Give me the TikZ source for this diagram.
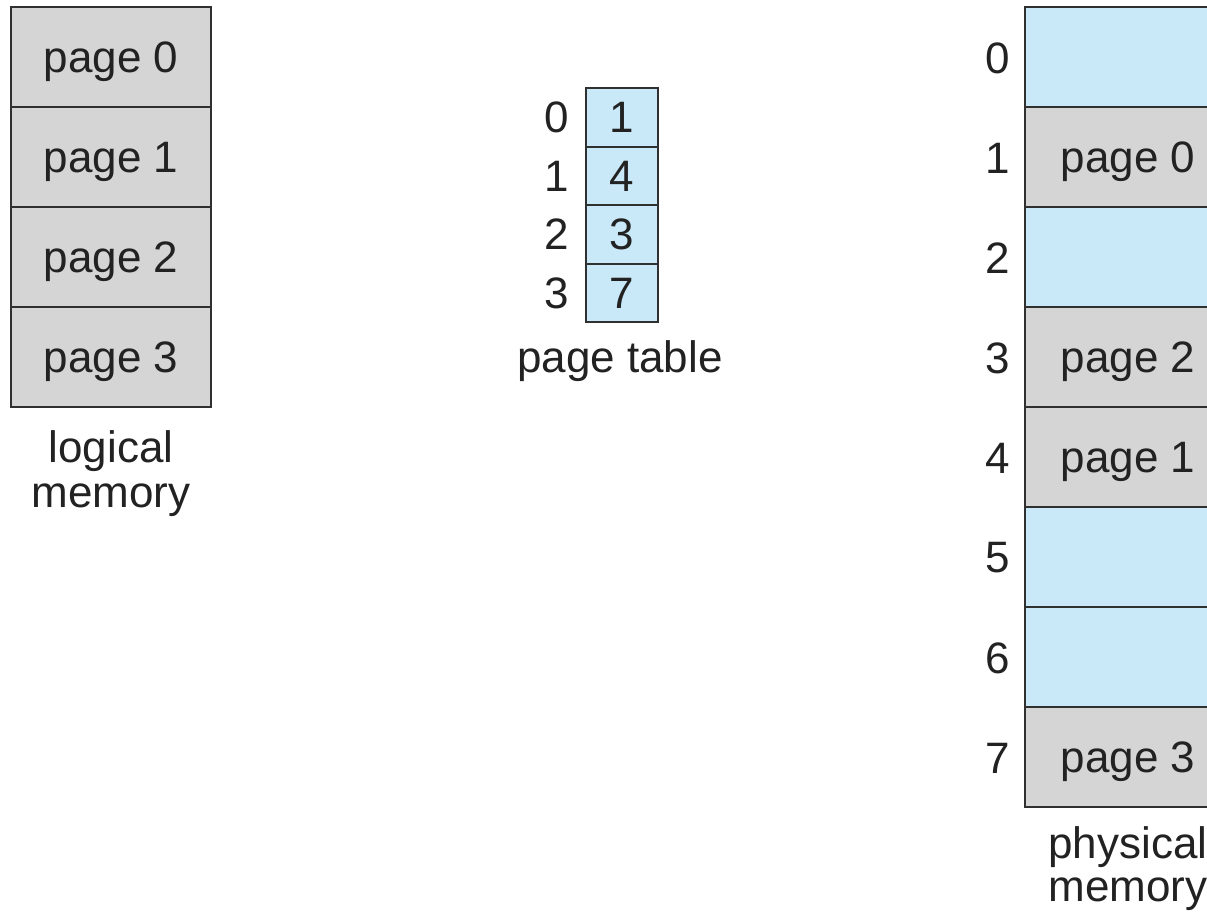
\documentclass[tikz,border=0pt]{standalone}
\usepackage{fontspec}
\setmainfont{Liberation Sans}
\definecolor{cellgray}{HTML}{D5D5D5}
\definecolor{cellblue}{HTML}{C9E9F8}
\definecolor{linecol}{HTML}{303030}
\definecolor{txtcol}{HTML}{222222}
\begin{document}
\begin{tikzpicture}[x=1pt,y=-1pt,
  every node/.style={font=\fontsize{44}{45}\selectfont, text=txtcol},
  cell/.style={draw=linecol, line width=2pt, inner sep=0pt, text depth=0pt, minimum width=200pt, minimum height=100pt},
  gcell/.style={cell, fill=cellgray},
  bcell/.style={cell, fill=cellblue},
  pcell/.style={cell, fill=cellgray, minimum width=206pt},
  pbcell/.style={cell, fill=cellblue, minimum width=206pt},
  tcell/.style={cell, fill=cellblue, minimum width=72pt, minimum height=58.5pt},
  idx/.style={inner sep=0pt},
  caption/.style={align=center, inner sep=0pt}
]
\useasboundingbox (0,0) rectangle (1207,913);
\clip (0,0) rectangle (1207,913);
\fill[white] (0,0) rectangle (1207,913);

% logical memory
\node[gcell] (l0) at (111,57) {page 0};
\node[gcell] (l1) at (111,157) {page 1};
\node[gcell] (l2) at (111,257) {page 2};
\node[gcell] (l3) at (111,357) {page 3};
\node[caption] (lcap) at (111,474) {logical\\memory};

% page table
\node[tcell] (t0) at (622,117.5) {1};
\node[tcell] (t1) at (622,176) {4};
\node[tcell] (t2) at (622,234.5) {3};
\node[tcell] (t3) at (622,293) {7};
\node[idx] (ti0) at (557,117.5) {0};
\node[idx] (ti1) at (557,176) {1};
\node[idx] (ti2) at (557,234.5) {2};
\node[idx] (ti3) at (557,293) {3};
\node[caption] (tcap) at (620,361) {page table};

% physical memory
\node[pbcell] (p0) at (1128,57) {};
\node[pcell]  (p1) at (1128,157) {page 0};
\node[pbcell] (p2) at (1128,257) {};
\node[pcell]  (p3) at (1128,357) {page 2};
\node[pcell]  (p4) at (1128,457) {page 1};
\node[pbcell] (p5) at (1128,557) {};
\node[pbcell] (p6) at (1128,657) {};
\node[pcell]  (p7) at (1128,757) {page 3};
\foreach \i in {0,...,7} {
  \node[idx] (pi\i) at (998,{58+100*\i}) {\i};
}
\node[caption, font=\fontsize{44}{43}\selectfont] (pcap) at (1128,869) {physical\\memory};
\end{tikzpicture}
\end{document}
